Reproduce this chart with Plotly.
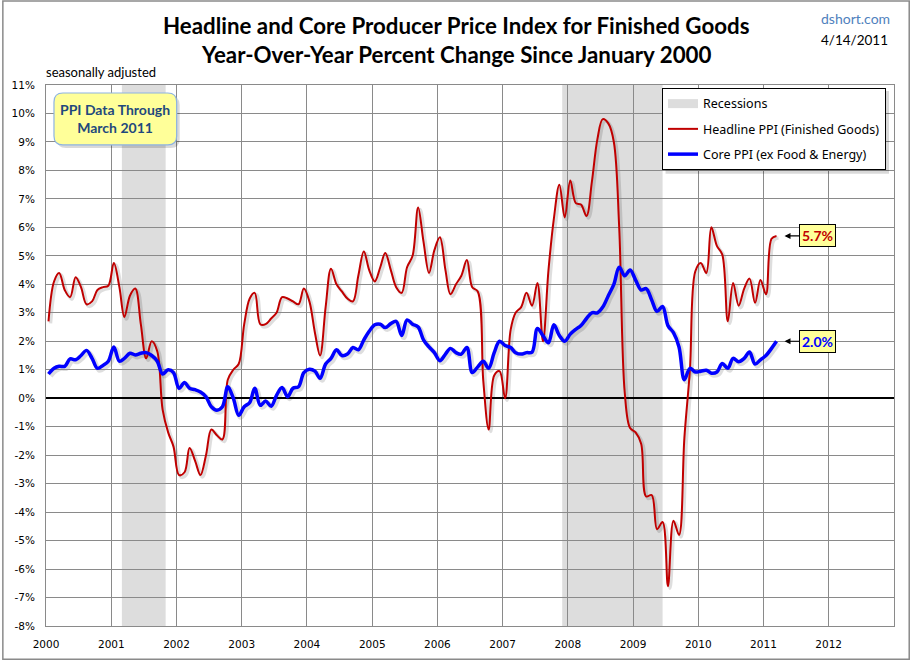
import plotly.graph_objects as go

# ---------------- data ----------------
headline = [
    2.7, 4.1, 4.4, 3.8, 3.55, 4.25, 3.9, 3.3, 3.4, 3.8, 3.9, 3.95,        # 2000
    4.75, 3.9, 2.85, 3.6, 3.85, 2.6, 1.4, 2.0, 1.65, -0.4, -1.2, -1.7,    # 2001
    -2.7, -2.6, -1.75, -2.2, -2.7, -2.0, -1.1, -1.3, -1.45, 0.65, 1.0, 1.2,  # 2002
    2.6, 3.5, 3.7, 2.6, 2.6, 2.8, 3.0, 3.55, 3.5, 3.4, 3.3, 3.85,         # 2003
    3.4, 2.3, 1.5, 3.2, 4.55, 4.0, 3.75, 3.5, 3.4, 4.3, 5.15, 4.5,        # 2004
    4.1, 4.6, 5.1, 4.5, 3.9, 3.7, 4.6, 5.0, 6.7, 5.5, 4.4, 5.2,           # 2005
    5.65, 4.5, 3.65, 4.0, 4.3, 4.85, 3.9, 3.75, 0.6, -1.1, 0.8, 0.95,     # 2006
    0.0, 2.4, 3.0, 3.2, 3.7, 3.25, 4.05, 2.0, 4.5, 6.3, 7.5, 6.35,        # 2007
    7.65, 6.85, 6.8, 6.4, 7.6, 9.1, 9.8, 9.65, 9.0, 6.0, 0.2, -1.05,      # 2008
    -1.2, -1.6, -3.45, -3.4, -4.6, -4.35, -6.6, -4.3, -4.8, -1.4, 1.0, 4.45,  # 2009
    4.75, 4.4, 6.0, 5.35, 5.05, 2.7, 4.05, 3.25, 3.85, 4.2, 3.35, 4.15,   # 2010
    3.65, 5.6, 5.7,                                                       # 2011
]
core = [
    0.85, 1.05, 1.12, 1.12, 1.38, 1.35, 1.5, 1.68, 1.4, 1.05, 1.15, 1.3,  # 2000
    1.8, 1.3, 1.4, 1.58, 1.52, 1.58, 1.6, 1.5, 1.3, 0.85, 1.0, 0.9,       # 2001
    0.35, 0.55, 0.35, 0.3, 0.22, 0.05, -0.3, -0.42, -0.3, 0.4, 0.0, -0.6,  # 2002
    -0.3, -0.15, 0.35, -0.25, -0.1, -0.28, 0.1, 0.38, 0.05, 0.35, 0.4, 0.9,  # 2003
    1.02, 0.95, 0.7, 1.2, 1.4, 1.7, 1.5, 1.55, 1.78, 1.7, 2.05, 2.35,     # 2004
    2.58, 2.6, 2.48, 2.62, 2.7, 2.2, 2.75, 2.6, 2.5, 2.05, 1.8, 1.6,      # 2005
    1.32, 1.55, 1.75, 1.6, 1.55, 1.78, 0.9, 1.1, 1.3, 1.05, 1.6, 2.0,     # 2006
    1.85, 1.78, 1.6, 1.55, 1.6, 1.62, 2.45, 2.2, 1.95, 2.58, 2.2, 2.0,    # 2007
    2.25, 2.42, 2.55, 2.8, 3.0, 3.0, 3.2, 3.6, 4.0, 4.6, 4.3, 4.5,        # 2008
    4.15, 3.8, 3.85, 3.45, 3.05, 3.22, 2.55, 2.3, 1.8, 0.65, 1.05, 0.92,  # 2009
    0.95, 0.98, 0.88, 0.92, 1.22, 1.05, 1.4, 1.28, 1.4, 1.62, 1.2, 1.35,  # 2010
    1.5, 1.75, 2.0,                                                       # 2011
]
start_year = 2000
dates = [f"{start_year + i // 12}-{i % 12 + 1:02d}-15" for i in range(len(headline))]

recessions = [("2001-03-01", "2001-11-01"), ("2007-12-01", "2009-06-15")]
year_ticks = [f"{y}-01-01" for y in range(2000, 2013)]
year_labels = [str(y) for y in range(2000, 2013)]
y_ticks = list(range(-8, 12))
y_labels = [f"{v}%" for v in y_ticks]
x_range = ["2000-01-01", "2013-01-01"]
y_range = [-8, 11]

# ---------------- layout helpers ----------------
W, H = 911, 662
SH = 2  # shadow offset in pixels
L, R, T, B = 44, 17 - SH, 85, 35 - SH
PW, PH = W - L - R, H - T - B


def px(x):
    return (x - L) / PW


def py(y):
    return (H - B - y) / PH


def rounded_rect(x0, y0, x1, y1, r):
    X0, X1 = px(x0), px(x1)
    Y0, Y1 = py(y0), py(y1)  # Y0 top
    rx, ry = r / PW, r / PH
    return (f"M{X0 + rx},{Y0} L{X1 - rx},{Y0} Q{X1},{Y0} {X1},{Y0 - ry} "
            f"L{X1},{Y1 + ry} Q{X1},{Y1} {X1 - rx},{Y1} L{X0 + rx},{Y1} "
            f"Q{X0},{Y1} {X0},{Y1 + ry} L{X0},{Y0 - ry} Q{X0},{Y0} {X0 + rx},{Y0} Z")


RED = "#C00000"
BLUE = "#0000FF"
GRID = "#8a8a8a"
FONT = "Lato"
SMOOTH = 1.0

fig = go.Figure()

# soft shadows (drawn on a copy of the axes shifted by SH pixels)
for series, w in ((headline, 3.5), (core, 5)):
    fig.add_trace(go.Scatter(
        x=dates, y=series, mode="lines", xaxis="x", yaxis="y",
        line=dict(color="rgba(0,0,0,0.13)", width=w, shape="spline", smoothing=SMOOTH),
        showlegend=False, hoverinfo="skip",
    ))

fig.add_trace(go.Scatter(
    x=[dates[0]], y=[None], mode="lines", name="Recessions", xaxis="x2", yaxis="y2",
    line=dict(color="#DDDDDD", width=9), legendgroup="r",
))
fig.add_trace(go.Scatter(
    x=dates, y=headline, mode="lines", name="Headline PPI (Finished Goods)",
    xaxis="x2", yaxis="y2", legendgroup="h",
    line=dict(color=RED, width=2, shape="spline", smoothing=SMOOTH),
))
fig.add_trace(go.Scatter(
    x=dates, y=core, mode="lines", name="Core PPI (ex Food & Energy)",
    xaxis="x2", yaxis="y2", legendgroup="c",
    line=dict(color=BLUE, width=3.5, shape="spline", smoothing=SMOOTH),
))

shapes = []
for a, b in recessions:
    shapes.append(dict(
        type="rect", xref="x2", yref="y2 domain", x0=a, x1=b, y0=0, y1=1,
        fillcolor="#DDDDDD", line=dict(width=0), layer="below",
    ))

# whole-image border
shapes.append(dict(type="rect", xref="paper", yref="paper",
                   x0=px(0.75), x1=px(W - 1.75), y0=py(H - 1.75), y1=py(0.75),
                   line=dict(color="#8a8a8a", width=1.5), fillcolor="rgba(0,0,0,0)"))
# PPI note box (shadow + box)
shapes.append(dict(type="path", xref="paper", yref="paper",
                   path=rounded_rect(55, 96, 178, 148, 9),
                   fillcolor="rgba(0,0,0,0.15)", line=dict(width=0)))
shapes.append(dict(type="path", xref="paper", yref="paper",
                   path=rounded_rect(52, 93, 175, 145, 9),
                   fillcolor="#FFFF99", line=dict(color="#8DB3E2", width=1.2)))
# legend shadow
shapes.append(dict(type="rect", xref="paper", yref="paper",
                   x0=px(665), x1=px(889), y0=py(174), y1=py(91),
                   fillcolor="rgba(0,0,0,0.15)", line=dict(width=0)))

annotations = [
    dict(text="<b>Headline and Core Producer Price Index for Finished Goods</b>",
         xref="paper", yref="paper", x=px(455.5), y=py(25), xanchor="center",
         yanchor="middle", showarrow=False,
         font=dict(family=FONT, size=22.3, color="#000000")),
    dict(text="<b>Year-Over-Year Percent Change Since January 2000</b>",
         xref="paper", yref="paper", x=px(455.5), y=py(54), xanchor="center",
         yanchor="middle", showarrow=False,
         font=dict(family=FONT, size=22.3, color="#000000")),
    dict(text="seasonally adjusted", xref="paper", yref="paper", x=px(42), y=py(72),
         xanchor="left", yanchor="middle", showarrow=False,
         font=dict(family=FONT, size=13, color="#000000")),
    dict(text="dshort.com", xref="paper", yref="paper", x=px(892), y=py(18),
         xanchor="right", yanchor="middle", showarrow=False,
         font=dict(family=FONT, size=14, color="#4F81BD")),
    dict(text="4/14/2011", xref="paper", yref="paper", x=px(890), y=py(40),
         xanchor="right", yanchor="middle", showarrow=False,
         font=dict(family=FONT, size=13.5, color="#000000")),
    dict(text="<b>PPI Data Through<br>March 2011</b>", xref="paper", yref="paper",
         x=px(113.5), y=py(119), xanchor="center", yanchor="middle", showarrow=False,
         font=dict(family=FONT, size=14, color="#1F497D")),
]
for series, color in ((headline, RED), (core, BLUE)):
    annotations.append(dict(
        x=dates[-1], y=series[-1], xref="x2", yref="y2",
        text=f"<b>{series[-1]:.1f}%</b>", showarrow=True,
        ax=41, ay=0, axref="pixel", ayref="pixel",
        arrowhead=2, arrowsize=1, arrowwidth=1.2, arrowcolor="#000000", standoff=8,
        bgcolor="#FFFF99", bordercolor="#000000", borderwidth=1, borderpad=2,
        font=dict(family=FONT, size=14, color=color),
    ))

axis_font = dict(family="DejaVu Sans", size=10.5, color="#000000")
dx, dy = SH / PW, SH / PH

fig.update_layout(
    width=W, height=H,
    margin=dict(l=L, r=R, t=T, b=B),
    paper_bgcolor="white", plot_bgcolor="rgba(0,0,0,0)",
    # shadow axes (hidden)
    xaxis=dict(type="date", domain=[dx, 1], range=x_range, anchor="y",
               visible=False, fixedrange=True),
    yaxis=dict(type="linear", domain=[0, 1 - dy], range=y_range, anchor="x",
               visible=False, fixedrange=True),
    # main axes
    xaxis2=dict(
        type="date", domain=[0, 1 - dx], range=x_range, anchor="y2",
        tickvals=year_ticks, ticktext=year_labels,
        showgrid=True, gridcolor=GRID, gridwidth=1,
        showline=True, linecolor=GRID, linewidth=1, mirror=True,
        ticks="", zeroline=False, ticklabelstandoff=8, tickfont=axis_font,
    ),
    yaxis2=dict(
        type="linear", domain=[dy, 1], range=y_range, anchor="x2",
        tickvals=y_ticks, ticktext=y_labels,
        showgrid=True, gridcolor=GRID, gridwidth=1,
        showline=True, linecolor=GRID, linewidth=1, mirror=True,
        ticks="", zeroline=True, zerolinecolor="#000000", zerolinewidth=2,
        ticklabelstandoff=8, tickfont=axis_font,
    ),
    legend=dict(
        x=px(886), y=py(88), xanchor="right", yanchor="top",
        bgcolor="white", bordercolor="#000000", borderwidth=1,
        font=dict(family="Noto Sans", size=12.5, color="#000000"),
        tracegroupgap=6, itemwidth=30,
    ),
    shapes=shapes,
    annotations=annotations,
    showlegend=True,
)

fig.write_html("out.html", config={"displayModeBar": False},
               post_script="document.body.style.margin='0';")
